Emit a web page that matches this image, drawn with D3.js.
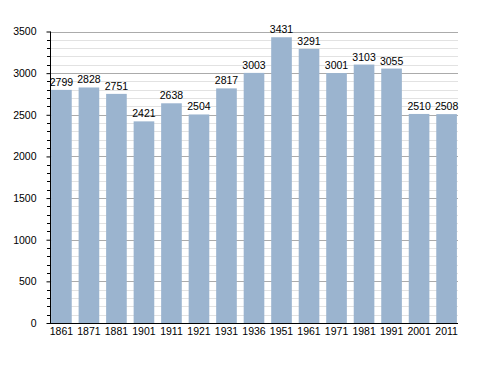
<!DOCTYPE html>
<html><head><meta charset="utf-8">
<script src="https://cdn.jsdelivr.net/npm/d3@7"></script>
<style>body{margin:0;background:#fff}text{font-family:"Liberation Sans",Arial,sans-serif}</style>
</head><body><svg id="c" width="488" height="373"></svg>
<script>
const years = ["1861","1871","1881","1901","1911","1921","1931","1936","1951","1961","1971","1981","1991","2001","2011"];
const population = [2799,2828,2751,2421,2638,2504,2817,3003,3431,3291,3001,3103,3055,2510,2508];
const yTicks = [0,500,1000,1500,2000,2500,3000,3500];

const svg = d3.select("#c");
const L = 50, R = 458, T = 31.5, B = 323;
const x = d3.scaleBand().domain(years).range([L, R]).paddingInner(0.25).paddingOuter(0.04);
const y = d3.scaleLinear().domain([0, 3500]).range([B, T]);

const minor = d3.range(0, 3501, 100).filter(v => v % 500 !== 0);
svg.append("g").selectAll("line").data(minor).join("line")
  .attr("x1", L).attr("x2", R).attr("y1", d => Math.round(y(d)) + 0.5).attr("y2", d => Math.round(y(d)) + 0.5)
  .attr("stroke", "#e2e2e2").attr("stroke-width", 1);
svg.append("g").selectAll("line").data(yTicks.filter(d => d > 0)).join("line")
  .attr("x1", L).attr("x2", R).attr("y1", d => Math.round(y(d)) + 0.5).attr("y2", d => Math.round(y(d)) + 0.5)
  .attr("stroke", "#ababab").attr("stroke-width", 1);

svg.append("g").selectAll("rect").data(population).join("rect")
  .attr("x", (d, i) => x(years[i])).attr("width", x.bandwidth())
  .attr("y", d => y(d)).attr("height", d => B - y(d))
  .attr("fill", "#9bb4cf");

svg.append("g").selectAll("text").data(population).join("text")
  .attr("x", (d, i) => x(years[i]) + x.bandwidth() / 2).attr("y", d => y(d) - 4)
  .attr("text-anchor", "middle").attr("font-size", 10.5).attr("fill", "#000").text(d => d);

// y axis
const ya = svg.append("g").attr("transform", `translate(${L + 0.5},0)`)
  .call(d3.axisLeft(y).tickValues(yTicks).tickSize(4).tickPadding(10).tickFormat(d3.format("d")));
ya.select(".domain").attr("d", `M0,${T}V${B}`).attr("stroke", "#000");
ya.selectAll("text").attr("font-size", 10.5).attr("font-family", '"Liberation Sans",Arial,sans-serif');
svg.append("g").selectAll("line").data(minor).join("line")
  .attr("x1", L - 3).attr("x2", L).attr("y1", d => Math.round(y(d)) + 0.5).attr("y2", d => Math.round(y(d)) + 0.5)
  .attr("stroke", "#000");

// x axis
const xa = svg.append("g").attr("transform", `translate(0,${B + 0.5})`)
  .call(d3.axisBottom(x).tickSize(0).tickPadding(4));
xa.select(".domain").attr("d", `M${L},0H${R}`).attr("stroke", "#000");
xa.selectAll("text").attr("font-size", 10.5).attr("font-family", '"Liberation Sans",Arial,sans-serif');
</script></body></html>
